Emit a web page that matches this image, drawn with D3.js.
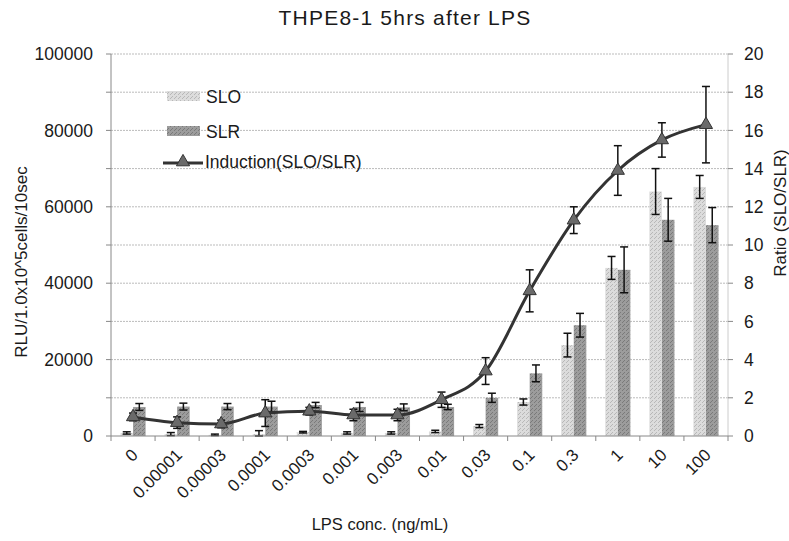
<!DOCTYPE html>
<html><head><meta charset="utf-8">
<script src="https://cdn.jsdelivr.net/npm/d3@7"></script>
<style>body{margin:0;background:#fff}svg{display:block}text{font-family:"Liberation Sans",Arial,sans-serif;fill:#1a1a1a}</style>
</head><body><svg id="c" width="789" height="541"></svg>
<script>
const categories = ["0","0.00001","0.00003","0.0001","0.0003","0.001","0.003","0.01","0.03","0.1","0.3","1","10","100"];
const sloValues = [800,500,300,500,1000,800,800,1200,2600,8900,23800,44000,64000,65200];
const sloErrors = [300,400,200,900,200,300,300,300,400,800,3100,3000,6000,3000];
const slrValues = [7600,7700,7700,7700,8100,7600,7500,7600,10000,16400,29000,43500,56600,55200];
const slrErrors = [900,900,800,1400,700,1200,900,700,1200,2200,3100,6000,5600,4600];
const ratioValues = [1.0,0.7,0.63,1.2,1.3,1.1,1.1,1.9,3.4,7.6,11.3,13.9,15.5,16.3];
const ratioErrors = [0.2,0.3,0.2,0.7,0.2,0.3,0.3,0.4,0.7,1.1,0.7,1.3,0.9,2.0];
const leftTicks = [0,20000,40000,60000,80000,100000];
const rightTicks = [0,2,4,6,8,10,12,14,16,18,20];

const svg = d3.select("#c");
const L = 111, R = 728, T = 54, B = 436;
const x = d3.scaleBand().domain(categories).range([L, R]).paddingInner(0.43).paddingOuter(0.215);
const xs = d3.scaleBand().domain(["SLO","SLR"]).range([0, x.bandwidth()]);
const y = d3.scaleLinear().domain([0,100000]).range([B, T]);
const yr = d3.scaleLinear().domain([0,20]).range([B, T]);
const cx = c => x(c) + x.bandwidth()/2;

// gridlines
svg.append("g").selectAll("line").data(rightTicks.filter(d=>d>0)).join("line")
  .attr("x1", L).attr("x2", R).attr("y1", d=>yr(d)).attr("y2", d=>yr(d))
  .attr("stroke", "#bbb").attr("stroke-dasharray", "2,1").attr("stroke-width", 1);
svg.append("line").attr("x1", R).attr("x2", R).attr("y1", T).attr("y2", B).attr("stroke", "#ccc");

// pattern fills
const defs = svg.append("defs");
function stipple(id, base, dot){
  const p = defs.append("pattern").attr("id", id).attr("width", 4).attr("height", 4).attr("patternUnits", "userSpaceOnUse");
  p.append("rect").attr("width", 4).attr("height", 4).attr("fill", base);
  p.append("rect").attr("x", 0).attr("y", 0).attr("width", 1).attr("height", 1).attr("fill", dot);
  p.append("rect").attr("x", 2).attr("y", 2).attr("width", 1).attr("height", 1).attr("fill", dot);
  p.append("rect").attr("x", 3).attr("y", 1).attr("width", 1).attr("height", 1).attr("fill", dot);
}
stipple("pSLO", "#dcdcdc", "#b8b8b8");
stipple("pSLR", "#9c9c9c", "#7a7a7a");

const series = [
  {key:"SLO", vals:sloValues, errs:sloErrors, fill:"url(#pSLO)"},
  {key:"SLR", vals:slrValues, errs:slrErrors, fill:"url(#pSLR)"}
];
series.forEach(s => {
  const g = svg.append("g");
  g.selectAll("rect").data(categories).join("rect")
    .attr("x", c => x(c) + xs(s.key)).attr("width", xs.bandwidth())
    .attr("y", (c,i) => y(s.vals[i])).attr("height", (c,i) => B - y(s.vals[i]))
    .attr("fill", s.fill);
});
function errBars(g, xf, vals, errs, sc){
  categories.forEach((c,i) => {
    const xx = xf(c), hi = sc(vals[i]+errs[i]), lo = sc(Math.max(0, vals[i]-errs[i]));
    g.append("line").attr("x1", xx).attr("x2", xx).attr("y1", hi).attr("y2", lo).attr("stroke", "#111").attr("stroke-width", 1.5);
    [hi, lo].forEach(yy => g.append("line").attr("x1", xx-4).attr("x2", xx+4).attr("y1", yy).attr("y2", yy).attr("stroke", "#111").attr("stroke-width", 1.5));
  });
}
series.forEach(s => errBars(svg.append("g"), c => x(c) + xs(s.key) + xs.bandwidth()/2, s.vals, s.errs, y));

// axes
const ax = svg.append("g").attr("stroke", "#888");
ax.append("line").attr("x1", L).attr("x2", L).attr("y1", T).attr("y2", B);
ax.append("line").attr("x1", L).attr("x2", R).attr("y1", B).attr("y2", B);
d3.range(0, 100001, 10000).forEach(v => ax.append("line").attr("x1", L-5).attr("x2", L).attr("y1", y(v)).attr("y2", y(v)));
rightTicks.forEach(v => ax.append("line").attr("x1", R).attr("x2", R+5).attr("y1", yr(v)).attr("y2", yr(v)));
categories.concat(["end"]).forEach((c,i) => {
  const xx = L + i * (R-L)/categories.length;
  ax.append("line").attr("x1", xx).attr("x2", xx).attr("y1", B).attr("y2", B+5);
});

svg.append("g").selectAll("text").data(leftTicks).join("text")
  .attr("x", 93).attr("y", d => y(d)).attr("dy", "0.35em").attr("text-anchor", "end")
  .attr("font-size", 17.5).text(d => d);
svg.append("g").selectAll("text").data(rightTicks).join("text")
  .attr("x", 744).attr("y", d => yr(d)).attr("dy", "0.35em").attr("text-anchor", "start")
  .attr("font-size", 17.5).text(d => d);
svg.append("g").selectAll("text").data(categories).join("text")
  .attr("text-anchor", "end").attr("font-size", 17)
  .attr("transform", c => `translate(${cx(c)+6},${B+20}) rotate(-45)`)
  .text(c => c);

// ratio line
svg.append("path").datum(ratioValues)
  .attr("d", d3.line().x((d,i) => cx(categories[i])).y(d => yr(d)).curve(d3.curveMonotoneX))
  .attr("fill", "none").attr("stroke", "#333").attr("stroke-width", 3);
errBars(svg.append("g"), cx, ratioValues, ratioErrors, yr);
const tri = d3.symbol().type(d3.symbolTriangle).size(75);
svg.append("g").selectAll("path").data(ratioValues).join("path")
  .attr("d", tri).attr("transform", (d,i) => `translate(${cx(categories[i])},${yr(d)})`)
  .attr("fill", "#6a6a6a").attr("stroke", "#333").attr("stroke-width", 1);

// titles
svg.append("text").attr("x", 405).attr("y", 25).attr("text-anchor", "middle").attr("font-size", 21).attr("letter-spacing", 1.2).text("THPE8-1 5hrs after LPS");
svg.append("text").attr("transform", "translate(27,262) rotate(-90)").attr("text-anchor", "middle").attr("font-size", 17).text("RLU/1.0x10^5cells/10sec");
svg.append("text").attr("transform", "translate(786,213) rotate(-90)").attr("text-anchor", "middle").attr("font-size", 17).text("Ratio (SLO/SLR)");
svg.append("text").attr("x", 380).attr("y", 530).attr("text-anchor", "middle").attr("font-size", 16.5).text("LPS conc. (ng/mL)");

// legend
const lg = svg.append("g");
lg.append("rect").attr("x", 167).attr("y", 91).attr("width", 33).attr("height", 10).attr("fill", "url(#pSLO)");
lg.append("text").attr("x", 206).attr("y", 97).attr("dy", "0.35em").attr("font-size", 17.5).text("SLO");
lg.append("rect").attr("x", 167).attr("y", 126).attr("width", 33).attr("height", 10).attr("fill", "url(#pSLR)");
lg.append("text").attr("x", 206).attr("y", 132).attr("dy", "0.35em").attr("font-size", 17.5).text("SLR");
lg.append("line").attr("x1", 163).attr("x2", 203).attr("y1", 163).attr("y2", 163).attr("stroke", "#333").attr("stroke-width", 3);
lg.append("path").attr("d", tri).attr("transform", "translate(183,162)").attr("fill", "#6a6a6a").attr("stroke", "#333");
lg.append("text").attr("x", 205).attr("y", 162).attr("dy", "0.35em").attr("font-size", 17.5).text("Induction(SLO/SLR)");
</script></body></html>
